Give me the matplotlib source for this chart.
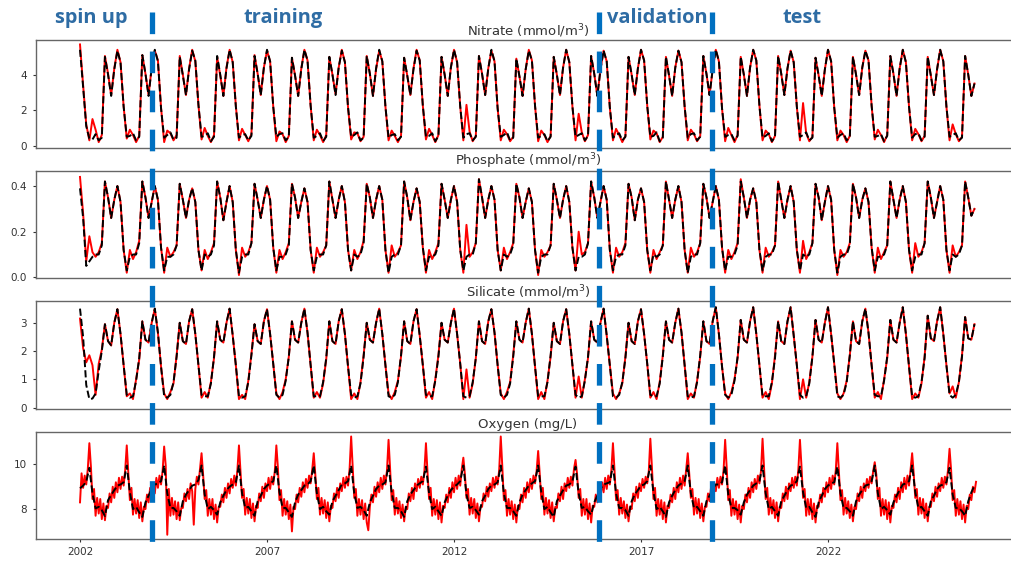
import numpy as np
import matplotlib.pyplot as plt
from matplotlib.lines import Line2D

# Monthly values (1st of each month, Jan..Dec), one row per year 2002-2025
NITRATE_MODEL = [
    [5.40, 3.30, 1.10, 0.40, 0.35, 0.65, 0.30, 0.45, 5.00, 4.00, 2.80, 4.30],
    [5.35, 4.70, 2.20, 0.50, 0.55, 0.70, 0.30, 0.50, 5.10, 4.05, 2.80, 4.40],
    [5.40, 4.75, 2.10, 0.45, 0.60, 0.75, 0.35, 0.45, 5.00, 3.95, 2.85, 4.30],
    [5.35, 4.80, 2.30, 0.50, 0.55, 0.70, 0.25, 0.50, 5.05, 4.00, 2.80, 4.35],
    [5.40, 4.70, 2.20, 0.45, 0.60, 0.65, 0.30, 0.55, 5.05, 4.05, 2.85, 4.40],
    [5.40, 4.75, 2.20, 0.50, 0.65, 0.70, 0.30, 0.50, 4.95, 3.95, 2.80, 4.30],
    [5.40, 4.80, 2.25, 0.45, 0.55, 0.70, 0.25, 0.50, 5.00, 4.00, 2.85, 4.40],
    [5.35, 4.70, 2.15, 0.50, 0.60, 0.75, 0.30, 0.45, 5.05, 4.05, 2.80, 4.35],
    [5.40, 4.75, 2.20, 0.45, 0.60, 0.65, 0.30, 0.50, 4.95, 3.95, 2.85, 4.30],
    [5.35, 4.80, 2.25, 0.50, 0.55, 0.70, 0.25, 0.55, 5.00, 4.00, 2.80, 4.40],
    [5.40, 4.70, 2.20, 0.45, 0.65, 0.70, 0.30, 0.50, 5.05, 4.05, 2.85, 4.35],
    [5.40, 4.75, 2.10, 0.50, 0.60, 0.75, 0.30, 0.45, 4.90, 3.90, 2.80, 4.30],
    [5.35, 4.80, 2.25, 0.45, 0.55, 0.65, 0.25, 0.50, 5.00, 4.00, 2.85, 4.40],
    [5.40, 4.70, 2.20, 0.50, 0.60, 0.70, 0.30, 0.55, 5.05, 4.05, 2.80, 4.30],
    [5.35, 4.75, 2.15, 0.45, 0.60, 0.70, 0.30, 0.50, 5.00, 4.00, 2.85, 4.35],
    [5.40, 4.80, 2.25, 0.50, 0.55, 0.75, 0.25, 0.45, 5.00, 3.95, 2.80, 4.40],
    [5.35, 4.70, 2.20, 0.45, 0.65, 0.70, 0.30, 0.50, 5.05, 4.05, 2.85, 4.30],
    [5.40, 4.75, 2.10, 0.50, 0.60, 0.65, 0.30, 0.55, 5.00, 4.00, 2.80, 4.40],
    [5.40, 4.80, 2.25, 0.45, 0.55, 0.70, 0.25, 0.50, 5.05, 4.05, 2.85, 4.35],
    [5.35, 4.70, 2.20, 0.50, 0.60, 0.75, 0.30, 0.45, 4.95, 3.95, 2.80, 4.30],
    [5.40, 4.75, 2.15, 0.45, 0.60, 0.70, 0.30, 0.50, 5.00, 4.00, 2.85, 4.40],
    [5.35, 4.80, 2.25, 0.50, 0.55, 0.65, 0.25, 0.55, 5.05, 4.05, 2.80, 4.35],
    [5.40, 4.70, 2.20, 0.45, 0.65, 0.70, 0.30, 0.50, 5.00, 3.95, 2.85, 4.30],
    [5.40, 4.75, 2.20, 0.50, 0.60, 0.70, 0.30, 0.45, 5.05, 4.00, 2.80, 3.50],
]
NITRATE_OBS = [
    [5.70, 3.40, 1.20, 0.30, 1.50, 0.90, 0.20, 0.60, 5.05, 4.05, 2.85, 4.35],
    [5.40, 4.70, 2.20, 0.40, 0.90, 0.60, 0.20, 0.55, 5.10, 4.05, 2.85, 4.40],
    [5.35, 4.80, 2.15, 0.20, 0.85, 0.70, 0.30, 0.60, 5.05, 4.00, 2.85, 4.35],
    [5.40, 4.75, 2.30, 0.35, 1.00, 0.55, 0.20, 0.60, 5.00, 3.95, 2.80, 4.40],
    [5.40, 4.70, 2.25, 0.30, 0.95, 0.60, 0.25, 0.65, 5.10, 4.05, 2.85, 4.40],
    [5.35, 4.75, 2.20, 0.25, 0.80, 0.65, 0.20, 0.55, 4.95, 3.95, 2.80, 4.35],
    [5.40, 4.80, 2.25, 0.30, 0.90, 0.60, 0.20, 0.60, 5.00, 4.00, 2.90, 4.40],
    [5.40, 4.70, 2.15, 0.35, 0.75, 0.70, 0.25, 0.50, 5.05, 4.05, 2.80, 4.30],
    [5.35, 4.75, 2.20, 0.30, 0.85, 0.55, 0.20, 0.55, 4.95, 3.95, 2.85, 4.35],
    [5.40, 4.80, 2.25, 0.35, 0.95, 0.60, 0.20, 0.60, 5.00, 4.00, 2.80, 4.40],
    [5.40, 4.70, 2.20, 0.30, 2.30, 0.80, 0.25, 0.55, 5.05, 4.05, 2.85, 4.35],
    [5.35, 4.75, 2.10, 0.30, 0.90, 0.65, 0.25, 0.50, 4.90, 3.90, 2.80, 4.30],
    [5.40, 4.80, 2.25, 0.25, 0.85, 0.60, 0.20, 0.55, 5.00, 4.00, 2.85, 4.40],
    [5.40, 4.70, 2.20, 0.30, 1.80, 0.75, 0.25, 0.60, 5.05, 4.05, 2.80, 4.30],
    [5.35, 4.75, 2.15, 0.30, 0.95, 0.60, 0.20, 0.55, 5.00, 4.00, 2.85, 4.35],
    [5.40, 4.80, 2.25, 0.35, 0.85, 0.70, 0.20, 0.50, 5.00, 3.95, 2.80, 4.40],
    [5.35, 4.70, 2.20, 0.30, 0.90, 0.65, 0.25, 0.55, 5.05, 4.05, 2.85, 4.30],
    [5.40, 4.75, 2.10, 0.25, 1.00, 0.60, 0.20, 0.60, 5.00, 4.00, 2.80, 4.40],
    [5.40, 4.80, 2.25, 0.30, 0.85, 0.65, 0.20, 0.55, 5.05, 4.05, 2.85, 4.35],
    [5.35, 4.70, 2.20, 0.30, 2.40, 0.70, 0.25, 0.50, 4.95, 3.95, 2.80, 4.30],
    [5.40, 4.75, 2.15, 0.30, 0.85, 0.60, 0.20, 0.55, 5.00, 4.00, 2.85, 4.40],
    [5.35, 4.80, 2.25, 0.35, 0.90, 0.60, 0.20, 0.60, 5.05, 4.05, 2.80, 4.35],
    [5.40, 4.70, 2.20, 0.30, 0.95, 0.65, 0.25, 0.55, 5.00, 3.95, 2.85, 4.30],
    [5.40, 4.75, 2.20, 0.30, 1.20, 0.65, 0.25, 0.50, 5.05, 4.00, 2.80, 3.50],
]

PHOSPHATE_MODEL = [
    [0.39, 0.26, 0.05, 0.07, 0.09, 0.10, 0.10, 0.14, 0.42, 0.35, 0.26, 0.34],
    [0.40, 0.33, 0.12, 0.03, 0.09, 0.10, 0.10, 0.15, 0.42, 0.35, 0.26, 0.33],
    [0.40, 0.34, 0.13, 0.03, 0.09, 0.09, 0.10, 0.14, 0.41, 0.34, 0.26, 0.34],
    [0.39, 0.33, 0.12, 0.03, 0.10, 0.09, 0.10, 0.14, 0.42, 0.35, 0.25, 0.33],
    [0.40, 0.33, 0.12, 0.02, 0.09, 0.10, 0.10, 0.15, 0.41, 0.34, 0.26, 0.34],
    [0.40, 0.34, 0.13, 0.03, 0.09, 0.09, 0.10, 0.14, 0.41, 0.35, 0.26, 0.33],
    [0.39, 0.33, 0.12, 0.03, 0.09, 0.10, 0.10, 0.14, 0.42, 0.34, 0.26, 0.34],
    [0.40, 0.33, 0.12, 0.03, 0.10, 0.09, 0.10, 0.15, 0.41, 0.35, 0.26, 0.34],
    [0.40, 0.34, 0.12, 0.02, 0.09, 0.10, 0.10, 0.14, 0.42, 0.35, 0.25, 0.33],
    [0.39, 0.33, 0.13, 0.03, 0.09, 0.09, 0.10, 0.14, 0.41, 0.34, 0.26, 0.34],
    [0.40, 0.33, 0.12, 0.03, 0.09, 0.10, 0.10, 0.15, 0.43, 0.35, 0.26, 0.34],
    [0.40, 0.34, 0.12, 0.03, 0.10, 0.09, 0.10, 0.14, 0.41, 0.35, 0.26, 0.33],
    [0.39, 0.33, 0.12, 0.02, 0.09, 0.10, 0.10, 0.14, 0.41, 0.34, 0.26, 0.34],
    [0.40, 0.33, 0.13, 0.03, 0.09, 0.09, 0.10, 0.15, 0.42, 0.35, 0.26, 0.33],
    [0.40, 0.34, 0.12, 0.03, 0.09, 0.10, 0.10, 0.14, 0.41, 0.35, 0.25, 0.34],
    [0.39, 0.33, 0.12, 0.03, 0.10, 0.09, 0.10, 0.14, 0.42, 0.34, 0.26, 0.34],
    [0.40, 0.33, 0.12, 0.02, 0.09, 0.10, 0.10, 0.15, 0.41, 0.35, 0.26, 0.33],
    [0.40, 0.34, 0.13, 0.03, 0.09, 0.09, 0.10, 0.14, 0.42, 0.35, 0.26, 0.34],
    [0.39, 0.33, 0.12, 0.03, 0.09, 0.10, 0.10, 0.14, 0.42, 0.34, 0.26, 0.34],
    [0.40, 0.33, 0.12, 0.03, 0.10, 0.09, 0.10, 0.15, 0.41, 0.35, 0.25, 0.33],
    [0.40, 0.34, 0.12, 0.02, 0.09, 0.10, 0.10, 0.14, 0.41, 0.35, 0.26, 0.34],
    [0.39, 0.33, 0.13, 0.03, 0.09, 0.09, 0.10, 0.14, 0.42, 0.34, 0.26, 0.34],
    [0.40, 0.33, 0.12, 0.03, 0.09, 0.10, 0.10, 0.15, 0.42, 0.35, 0.26, 0.33],
    [0.40, 0.34, 0.12, 0.03, 0.10, 0.09, 0.10, 0.14, 0.42, 0.35, 0.27, 0.30],
]
PHOSPHATE_OBS = [
    [0.44, 0.28, 0.07, 0.18, 0.11, 0.09, 0.11, 0.15, 0.42, 0.35, 0.26, 0.34],
    [0.40, 0.33, 0.12, 0.02, 0.12, 0.08, 0.11, 0.16, 0.42, 0.35, 0.26, 0.33],
    [0.40, 0.34, 0.13, 0.02, 0.13, 0.09, 0.11, 0.14, 0.41, 0.34, 0.26, 0.34],
    [0.39, 0.33, 0.12, 0.03, 0.12, 0.08, 0.11, 0.15, 0.42, 0.35, 0.25, 0.33],
    [0.40, 0.33, 0.12, 0.01, 0.13, 0.09, 0.11, 0.15, 0.41, 0.34, 0.26, 0.34],
    [0.40, 0.34, 0.13, 0.02, 0.12, 0.08, 0.11, 0.15, 0.41, 0.35, 0.26, 0.33],
    [0.39, 0.33, 0.12, 0.02, 0.13, 0.09, 0.11, 0.14, 0.42, 0.34, 0.26, 0.34],
    [0.40, 0.33, 0.12, 0.03, 0.12, 0.08, 0.11, 0.16, 0.41, 0.35, 0.26, 0.34],
    [0.40, 0.34, 0.12, 0.02, 0.14, 0.09, 0.11, 0.14, 0.42, 0.35, 0.25, 0.33],
    [0.39, 0.33, 0.13, 0.02, 0.12, 0.08, 0.11, 0.15, 0.41, 0.34, 0.26, 0.34],
    [0.40, 0.33, 0.12, 0.02, 0.23, 0.09, 0.11, 0.15, 0.43, 0.35, 0.26, 0.34],
    [0.40, 0.34, 0.12, 0.03, 0.13, 0.08, 0.11, 0.15, 0.41, 0.35, 0.26, 0.33],
    [0.39, 0.33, 0.12, 0.01, 0.12, 0.09, 0.11, 0.14, 0.41, 0.34, 0.26, 0.34],
    [0.40, 0.33, 0.13, 0.03, 0.20, 0.10, 0.11, 0.15, 0.42, 0.35, 0.26, 0.33],
    [0.40, 0.34, 0.12, 0.02, 0.13, 0.09, 0.11, 0.15, 0.41, 0.35, 0.25, 0.34],
    [0.39, 0.33, 0.12, 0.02, 0.12, 0.08, 0.11, 0.14, 0.42, 0.34, 0.26, 0.34],
    [0.40, 0.33, 0.12, 0.02, 0.13, 0.09, 0.11, 0.15, 0.41, 0.35, 0.26, 0.33],
    [0.40, 0.34, 0.13, 0.02, 0.12, 0.08, 0.11, 0.15, 0.43, 0.35, 0.26, 0.34],
    [0.39, 0.33, 0.12, 0.02, 0.13, 0.09, 0.11, 0.14, 0.42, 0.34, 0.26, 0.34],
    [0.40, 0.33, 0.12, 0.02, 0.16, 0.08, 0.11, 0.15, 0.41, 0.35, 0.25, 0.33],
    [0.40, 0.34, 0.12, 0.01, 0.12, 0.09, 0.11, 0.15, 0.41, 0.35, 0.26, 0.34],
    [0.39, 0.33, 0.13, 0.02, 0.13, 0.08, 0.11, 0.14, 0.42, 0.34, 0.26, 0.34],
    [0.40, 0.33, 0.12, 0.02, 0.15, 0.09, 0.11, 0.15, 0.42, 0.35, 0.26, 0.33],
    [0.40, 0.34, 0.12, 0.02, 0.14, 0.09, 0.11, 0.14, 0.42, 0.35, 0.27, 0.30],
]

SILICATE_MODEL = [
    [3.50, 2.50, 0.80, 0.30, 0.32, 0.50, 1.30, 2.00, 2.95, 2.35, 2.20, 3.00],
    [3.48, 2.60, 1.50, 0.45, 0.35, 0.40, 0.95, 1.75, 3.05, 2.40, 2.30, 3.00],
    [3.50, 2.65, 1.45, 0.40, 0.35, 0.45, 0.90, 1.80, 3.00, 2.35, 2.25, 3.05],
    [3.48, 2.60, 1.50, 0.45, 0.40, 0.40, 0.85, 1.80, 3.05, 2.40, 2.30, 3.00],
    [3.50, 2.55, 1.50, 0.40, 0.35, 0.40, 0.90, 1.85, 2.95, 2.35, 2.25, 3.05],
    [3.48, 2.60, 1.55, 0.45, 0.35, 0.45, 0.95, 1.80, 3.05, 2.40, 2.30, 3.00],
    [3.50, 2.65, 1.50, 0.40, 0.40, 0.40, 0.90, 1.75, 3.05, 2.35, 2.25, 3.05],
    [3.48, 2.60, 1.45, 0.45, 0.35, 0.40, 0.85, 1.80, 3.00, 2.40, 2.30, 3.00],
    [3.50, 2.60, 1.50, 0.40, 0.35, 0.45, 0.90, 1.85, 3.05, 2.35, 2.25, 3.05],
    [3.48, 2.55, 1.50, 0.45, 0.40, 0.40, 0.95, 1.80, 3.00, 2.40, 2.30, 3.00],
    [3.50, 2.60, 1.55, 0.40, 0.35, 0.40, 0.90, 1.75, 3.05, 2.35, 2.25, 3.05],
    [3.48, 2.65, 1.50, 0.45, 0.35, 0.45, 0.85, 1.80, 3.05, 2.40, 2.30, 3.00],
    [3.50, 2.60, 1.45, 0.40, 0.40, 0.40, 0.90, 1.85, 3.00, 2.35, 2.25, 3.05],
    [3.48, 2.60, 1.50, 0.45, 0.35, 0.40, 0.95, 1.80, 3.05, 2.40, 2.30, 3.00],
    [3.50, 2.55, 1.50, 0.40, 0.35, 0.45, 0.90, 1.75, 3.00, 2.35, 2.25, 3.05],
    [3.48, 2.60, 1.55, 0.45, 0.40, 0.40, 0.85, 1.80, 3.05, 2.40, 2.30, 3.00],
    [3.50, 2.65, 1.50, 0.40, 0.35, 0.40, 0.90, 1.85, 3.05, 2.35, 2.25, 3.05],
    [3.55, 2.60, 1.45, 0.45, 0.35, 0.45, 0.95, 1.80, 3.10, 2.40, 2.30, 3.05],
    [3.55, 2.60, 1.50, 0.40, 0.40, 0.40, 0.90, 1.75, 3.05, 2.35, 2.25, 3.05],
    [3.55, 2.55, 1.50, 0.45, 0.35, 0.40, 0.85, 1.80, 3.10, 2.40, 2.30, 3.00],
    [3.55, 2.60, 1.55, 0.40, 0.35, 0.45, 0.90, 1.85, 3.05, 2.35, 2.25, 3.05],
    [3.50, 2.65, 1.50, 0.45, 0.40, 0.40, 0.95, 1.80, 3.10, 2.40, 2.30, 3.00],
    [3.55, 2.60, 1.45, 0.40, 0.35, 0.40, 0.90, 1.75, 3.25, 2.45, 2.35, 3.05],
    [3.55, 2.60, 1.50, 0.45, 0.35, 0.45, 0.90, 1.80, 3.20, 2.45, 2.40, 2.95],
]
SILICATE_OBS = [
    [3.15, 2.10, 1.60, 1.85, 1.50, 0.45, 1.55, 2.05, 2.95, 2.35, 2.20, 3.00],
    [3.48, 2.60, 1.50, 0.40, 0.50, 0.30, 1.00, 1.70, 3.05, 2.40, 2.30, 3.00],
    [3.50, 2.65, 1.45, 0.50, 0.30, 0.55, 0.85, 1.85, 3.00, 2.35, 2.25, 3.05],
    [3.48, 2.60, 1.50, 0.35, 0.55, 0.35, 0.90, 1.75, 3.05, 2.40, 2.30, 3.00],
    [3.50, 2.55, 1.50, 0.30, 0.45, 0.30, 0.95, 1.90, 2.95, 2.35, 2.25, 3.05],
    [3.48, 2.60, 1.55, 0.50, 0.30, 0.55, 1.00, 1.80, 3.05, 2.40, 2.30, 3.00],
    [3.50, 2.65, 1.50, 0.35, 0.55, 0.35, 0.85, 1.70, 3.05, 2.35, 2.25, 3.05],
    [3.48, 2.60, 1.45, 0.30, 0.50, 0.30, 0.90, 1.85, 3.00, 2.40, 2.30, 3.00],
    [3.50, 2.60, 1.50, 0.50, 0.30, 0.55, 0.95, 1.80, 3.05, 2.35, 2.25, 3.05],
    [3.48, 2.55, 1.50, 0.35, 0.55, 0.30, 1.00, 1.85, 3.00, 2.40, 2.30, 3.00],
    [3.50, 2.60, 1.55, 0.30, 1.35, 0.35, 0.85, 1.75, 3.05, 2.35, 2.25, 3.05],
    [3.48, 2.65, 1.50, 0.50, 0.30, 0.55, 0.90, 1.85, 3.05, 2.40, 2.30, 3.00],
    [3.50, 2.60, 1.45, 0.30, 0.55, 0.30, 0.95, 1.80, 3.00, 2.35, 2.25, 3.05],
    [3.48, 2.60, 1.50, 0.35, 1.10, 0.35, 1.00, 1.75, 3.05, 2.40, 2.30, 3.00],
    [3.50, 2.55, 1.50, 0.50, 0.30, 0.50, 0.85, 1.80, 3.00, 2.35, 2.25, 3.05],
    [3.48, 2.60, 1.55, 0.35, 0.55, 0.30, 0.90, 1.85, 3.05, 2.40, 2.30, 3.00],
    [3.50, 2.65, 1.50, 0.30, 0.50, 0.35, 0.95, 1.80, 3.05, 2.35, 2.25, 3.05],
    [3.55, 2.60, 1.45, 0.50, 0.30, 0.55, 1.00, 1.75, 3.10, 2.40, 2.30, 3.05],
    [3.55, 2.60, 1.50, 0.35, 0.55, 0.30, 0.85, 1.85, 3.05, 2.35, 2.25, 3.05],
    [3.55, 2.55, 1.50, 0.30, 1.00, 0.35, 0.90, 1.80, 3.10, 2.40, 2.30, 3.00],
    [3.55, 2.60, 1.55, 0.50, 0.30, 0.50, 0.95, 1.85, 3.05, 2.35, 2.25, 3.05],
    [3.50, 2.65, 1.50, 0.35, 0.55, 0.30, 1.00, 1.75, 3.10, 2.40, 2.30, 3.00],
    [3.55, 2.60, 1.45, 0.30, 0.50, 0.35, 0.85, 1.80, 3.25, 2.45, 2.35, 3.05],
    [3.55, 2.60, 1.50, 0.50, 0.75, 0.35, 0.90, 1.85, 3.20, 2.45, 2.40, 2.95],
]

OXYGEN_MODEL = [
    [8.93, 9.05, 9.22, 9.85, 8.70, 8.03, 8.10, 7.95, 7.69, 8.40, 8.63, 8.85],
    [9.05, 9.10, 9.20, 9.95, 8.75, 8.00, 8.10, 7.85, 7.65, 8.30, 8.60, 8.90],
    [9.10, 9.15, 9.25, 9.95, 8.70, 8.05, 8.05, 7.90, 7.70, 8.35, 8.65, 8.85],
    [9.05, 9.10, 9.30, 9.95, 8.65, 8.00, 8.10, 7.95, 7.75, 8.30, 8.60, 8.85],
    [9.00, 9.10, 9.20, 9.95, 8.70, 8.05, 8.10, 7.90, 7.70, 8.35, 8.60, 8.90],
    [9.05, 9.15, 9.25, 9.95, 8.75, 8.05, 8.05, 7.85, 7.65, 8.30, 8.65, 8.85],
    [9.05, 9.10, 9.25, 9.95, 8.70, 8.00, 8.10, 7.90, 7.75, 8.35, 8.60, 8.85],
    [9.10, 9.15, 9.25, 9.95, 8.70, 8.05, 8.10, 7.95, 7.70, 8.30, 8.60, 8.90],
    [9.05, 9.10, 9.20, 9.95, 8.75, 8.05, 8.05, 7.90, 7.65, 8.35, 8.65, 8.85],
    [9.05, 9.15, 9.25, 9.90, 8.70, 8.00, 8.10, 7.90, 7.70, 8.30, 8.60, 8.85],
    [9.00, 9.10, 9.25, 9.95, 8.65, 8.05, 8.10, 7.95, 7.75, 8.35, 8.60, 8.90],
    [9.05, 9.10, 9.20, 9.95, 8.70, 8.05, 8.05, 7.90, 7.70, 8.30, 8.65, 8.85],
    [9.05, 9.15, 9.25, 9.95, 8.75, 8.00, 8.10, 7.85, 7.65, 8.35, 8.60, 8.85],
    [9.05, 9.10, 9.25, 9.90, 8.70, 8.05, 8.10, 7.90, 7.75, 8.30, 8.60, 8.90],
    [9.10, 9.15, 9.20, 9.95, 8.70, 8.05, 8.05, 7.95, 7.70, 8.35, 8.65, 8.85],
    [9.05, 9.10, 9.25, 9.95, 8.75, 8.00, 8.10, 7.90, 7.65, 8.30, 8.60, 8.85],
    [9.05, 9.15, 9.25, 9.95, 8.70, 8.05, 8.10, 7.90, 7.70, 8.35, 8.60, 8.90],
    [9.10, 9.10, 9.20, 9.95, 8.65, 8.05, 8.05, 7.95, 7.75, 8.30, 8.65, 8.85],
    [9.05, 9.15, 9.25, 9.95, 8.70, 8.00, 8.10, 7.90, 7.70, 8.35, 8.60, 8.85],
    [9.05, 9.10, 9.25, 9.90, 8.75, 8.05, 8.10, 7.85, 7.65, 8.30, 8.60, 8.90],
    [9.05, 9.15, 9.20, 9.90, 8.70, 8.05, 8.05, 7.90, 7.70, 8.35, 8.65, 8.85],
    [9.05, 9.10, 9.25, 9.95, 8.70, 8.00, 8.10, 7.95, 7.75, 8.30, 8.60, 8.85],
    [9.10, 9.15, 9.25, 9.95, 8.75, 8.05, 8.10, 7.90, 7.70, 8.35, 8.60, 8.90],
    [9.05, 9.10, 9.20, 9.85, 8.65, 8.05, 8.05, 7.90, 7.70, 8.35, 8.75, 9.05],
]
# Oxygen observations twice a month (1st and 16th), one row per year
OXYGEN_OBS = [
    [8.30, 9.60, 8.95, 9.50, 9.10, 9.80, 10.95, 9.90, 8.45, 8.90, 7.70, 8.50, 7.80, 8.45, 7.55, 8.25, 7.50, 8.15, 8.05, 8.70, 8.30, 9.00, 8.50, 9.20],
    [8.75, 9.40, 8.90, 9.45, 9.05, 9.75, 10.85, 9.60, 8.40, 8.95, 7.75, 8.45, 7.80, 8.40, 7.60, 8.30, 7.45, 8.10, 8.00, 8.65, 8.30, 8.95, 8.50, 9.15],
    [8.70, 9.40, 8.95, 9.50, 9.10, 9.70, 10.80, 9.95, 6.85, 8.90, 7.70, 8.50, 7.75, 8.35, 7.55, 8.30, 7.50, 8.05, 8.05, 8.70, 8.35, 8.90, 8.45, 9.15],
    [8.80, 7.30, 8.90, 9.45, 9.10, 9.80, 10.50, 9.55, 8.45, 8.85, 7.70, 8.45, 7.75, 8.45, 7.55, 8.20, 7.40, 8.10, 8.10, 8.65, 8.30, 8.95, 8.50, 9.15],
    [8.70, 9.35, 8.95, 9.50, 9.05, 9.75, 10.85, 9.70, 8.50, 8.90, 7.75, 8.50, 7.80, 8.45, 7.60, 8.25, 7.45, 8.15, 8.05, 8.70, 8.35, 9.00, 8.50, 9.15],
    [8.80, 9.40, 8.90, 9.45, 9.10, 9.70, 10.85, 9.85, 8.40, 8.85, 7.70, 8.45, 7.75, 8.35, 7.55, 8.20, 7.00, 8.10, 8.00, 8.65, 8.30, 8.95, 8.55, 9.20],
    [8.75, 9.35, 8.95, 9.50, 9.15, 9.75, 10.50, 9.55, 8.45, 8.95, 7.75, 8.50, 7.80, 8.40, 7.60, 8.30, 7.45, 8.15, 8.05, 8.70, 8.35, 8.95, 8.50, 9.15],
    [8.80, 9.40, 8.95, 9.45, 9.05, 9.80, 11.25, 9.90, 8.50, 8.90, 7.70, 8.45, 7.75, 8.40, 7.55, 8.25, 7.40, 7.05, 8.10, 8.65, 8.30, 9.00, 8.55, 9.20],
    [8.75, 9.40, 8.90, 9.50, 9.10, 9.75, 11.10, 9.80, 8.40, 8.85, 7.75, 8.50, 7.80, 8.35, 7.60, 8.20, 7.45, 8.10, 8.00, 8.70, 8.35, 8.95, 8.45, 9.15],
    [8.80, 9.35, 8.95, 9.45, 9.10, 9.70, 10.95, 9.65, 8.45, 8.95, 7.70, 8.45, 7.75, 8.40, 7.55, 8.30, 7.40, 8.15, 8.05, 8.65, 8.30, 8.95, 8.50, 9.20],
    [8.75, 9.40, 8.90, 9.50, 9.05, 9.80, 10.30, 9.55, 8.50, 8.90, 7.75, 8.50, 7.80, 8.45, 7.60, 8.25, 7.45, 8.10, 8.10, 8.70, 8.35, 9.00, 8.55, 9.15],
    [8.80, 9.40, 8.95, 9.45, 9.10, 9.75, 11.25, 9.90, 8.40, 8.85, 7.70, 8.45, 7.75, 8.35, 7.55, 8.20, 7.40, 8.15, 8.00, 8.65, 8.30, 8.95, 8.50, 9.20],
    [8.75, 9.35, 8.90, 9.50, 9.15, 9.70, 10.60, 9.60, 8.45, 8.95, 7.75, 8.50, 7.80, 8.40, 7.60, 8.30, 7.45, 8.10, 8.05, 8.70, 8.35, 9.00, 8.45, 9.15],
    [8.80, 9.40, 8.95, 9.45, 9.05, 9.80, 10.20, 9.55, 8.50, 8.90, 7.70, 8.45, 7.75, 8.45, 7.55, 8.25, 7.40, 8.15, 8.10, 8.65, 8.30, 8.95, 8.55, 9.20],
    [8.75, 9.40, 8.90, 9.50, 9.10, 9.75, 10.95, 9.75, 8.40, 8.85, 7.75, 8.50, 7.80, 8.35, 7.60, 8.20, 7.45, 8.10, 8.00, 8.70, 8.35, 9.00, 8.50, 9.15],
    [8.80, 9.35, 8.95, 9.45, 9.15, 9.70, 11.15, 9.90, 8.45, 8.95, 7.70, 8.45, 7.75, 8.40, 7.55, 8.30, 7.40, 8.15, 8.05, 8.65, 8.30, 8.95, 8.45, 9.20],
    [8.75, 9.40, 8.90, 9.50, 9.05, 9.80, 10.50, 9.55, 8.50, 8.90, 7.75, 8.50, 7.80, 8.45, 7.60, 8.25, 7.45, 8.10, 8.10, 8.70, 8.35, 9.00, 8.55, 9.15],
    [8.80, 9.40, 8.95, 9.45, 9.10, 9.75, 11.10, 9.85, 8.40, 8.85, 7.70, 8.45, 7.75, 8.35, 7.55, 8.20, 7.40, 8.15, 8.00, 8.65, 8.30, 8.95, 8.50, 9.20],
    [8.75, 9.35, 8.90, 9.50, 9.15, 9.70, 11.15, 9.80, 8.45, 8.95, 7.75, 8.50, 7.80, 8.40, 7.60, 8.30, 7.45, 8.10, 8.05, 8.70, 8.35, 9.00, 8.45, 9.15],
    [8.80, 9.40, 8.95, 9.45, 9.05, 9.80, 11.10, 9.90, 8.50, 8.90, 7.70, 8.45, 7.75, 8.45, 7.55, 8.25, 7.40, 8.15, 8.10, 8.65, 8.30, 8.95, 8.55, 9.20],
    [8.75, 9.40, 8.90, 9.50, 9.10, 9.75, 10.95, 9.65, 8.40, 8.85, 7.75, 8.50, 7.80, 8.35, 7.60, 8.20, 7.45, 8.10, 8.00, 8.70, 8.35, 9.00, 8.50, 9.15],
    [8.80, 9.35, 8.95, 9.45, 9.15, 9.70, 10.10, 9.55, 8.45, 8.95, 7.70, 8.45, 7.75, 8.40, 7.55, 8.30, 7.40, 8.15, 8.05, 8.65, 8.30, 8.95, 8.45, 9.20],
    [8.75, 9.40, 8.90, 9.50, 9.05, 9.80, 10.50, 9.60, 8.50, 8.90, 7.75, 8.50, 7.80, 8.45, 7.60, 8.25, 7.45, 8.10, 8.10, 8.70, 8.35, 9.00, 8.55, 9.15],
    [8.80, 9.40, 8.95, 9.45, 9.10, 9.75, 10.70, 9.75, 8.40, 8.85, 7.70, 8.45, 7.75, 8.35, 7.55, 8.20, 7.40, 8.15, 8.00, 8.65, 8.40, 9.00, 8.75, 9.22],
]

PERIOD_BREAKS = [2003.93, 2015.88, 2018.90]
PERIOD_LABELS = ["spin up", "training", "validation", "test"]
XTICKS = [2002, 2007, 2012, 2017, 2022]

panels = [
    ("Nitrate (mmol/m$^3$)", NITRATE_OBS, NITRATE_MODEL, 12, (-0.13, 5.95), [0, 2, 4], "{:.0f}"),
    ("Phosphate (mmol/m$^3$)", PHOSPHATE_OBS, PHOSPHATE_MODEL, 12, (-0.003, 0.466), [0.0, 0.2, 0.4], "{:.1f}"),
    ("Silicate (mmol/m$^3$)", SILICATE_OBS, SILICATE_MODEL, 12, (-0.05, 3.77), [0, 1, 2, 3], "{:.0f}"),
    ("Oxygen (mg/L)", OXYGEN_OBS, OXYGEN_MODEL, 24, (6.66, 11.45), [8, 10], "{:.0f}"),
]

W, H = 1011, 563
fig = plt.figure(figsize=(W / 100, H / 100), dpi=100)

# axes boxes in pixels (top, bottom); right edge runs past the canvas
boxes = [(40, 148), (171, 278), (301, 409), (432, 539)]
left_px, right_px = 35.5, 1020.6

axes = []
for (title, obs, model, obs_per_year, ylim, yticks, fmt), (top, bot) in zip(panels, boxes):
    ax = fig.add_axes([left_px / W, 1 - bot / H, (right_px - left_px) / W, (bot - top) / H])
    obs = np.ravel(obs)
    model = np.ravel(model)
    t_obs = 2002 + np.arange(len(obs)) / obs_per_year
    t_mod = 2002 + np.arange(len(model)) / 12
    ax.plot(t_obs, obs, color="red", lw=1.4)
    ax.plot(t_mod, model, color="black", ls="--", lw=1.4)
    ax.set_xlim(2000.81, 2027.15)
    ax.set_ylim(*ylim)
    ax.set_yticks(yticks)
    ax.set_yticklabels([fmt.format(v) for v in yticks])
    ax.set_xticks(XTICKS)
    ax.set_title(title, fontsize=9.5, pad=3, color="#333333")
    ax.tick_params(labelsize=7.5, colors="#333333", length=2.5, width=0.8)
    for s in ax.spines.values():
        s.set_color("#666666")
        s.set_linewidth(1.0)
    axes.append(ax)

for ax in axes[:-1]:
    ax.tick_params(bottom=False, labelbottom=False)
axes[-1].set_xticklabels([str(y) for y in XTICKS])

# dashed split markers running over all panels
for x in PERIOD_BREAKS:
    xf = fig.transFigure.inverted().transform(axes[0].transData.transform((x, 0)))[0]
    fig.add_artist(Line2D([xf, xf], [1 - 11.7 / H, 1 - 547 / H], transform=fig.transFigure,
                          color="#0070C0", lw=3.8, linestyle=(0, (4.1, 3.3))))

label_x = [91.5, 283, 657, 802]
for lbl, x in zip(PERIOD_LABELS, label_x):
    fig.text(x / W, 1 - 23 / H, lbl, ha="center", va="baseline", fontsize=14.4,
             fontweight="bold", family="Open Sans", color="#2E6CA4")

fig.savefig("out.png", dpi=100, facecolor="white")
